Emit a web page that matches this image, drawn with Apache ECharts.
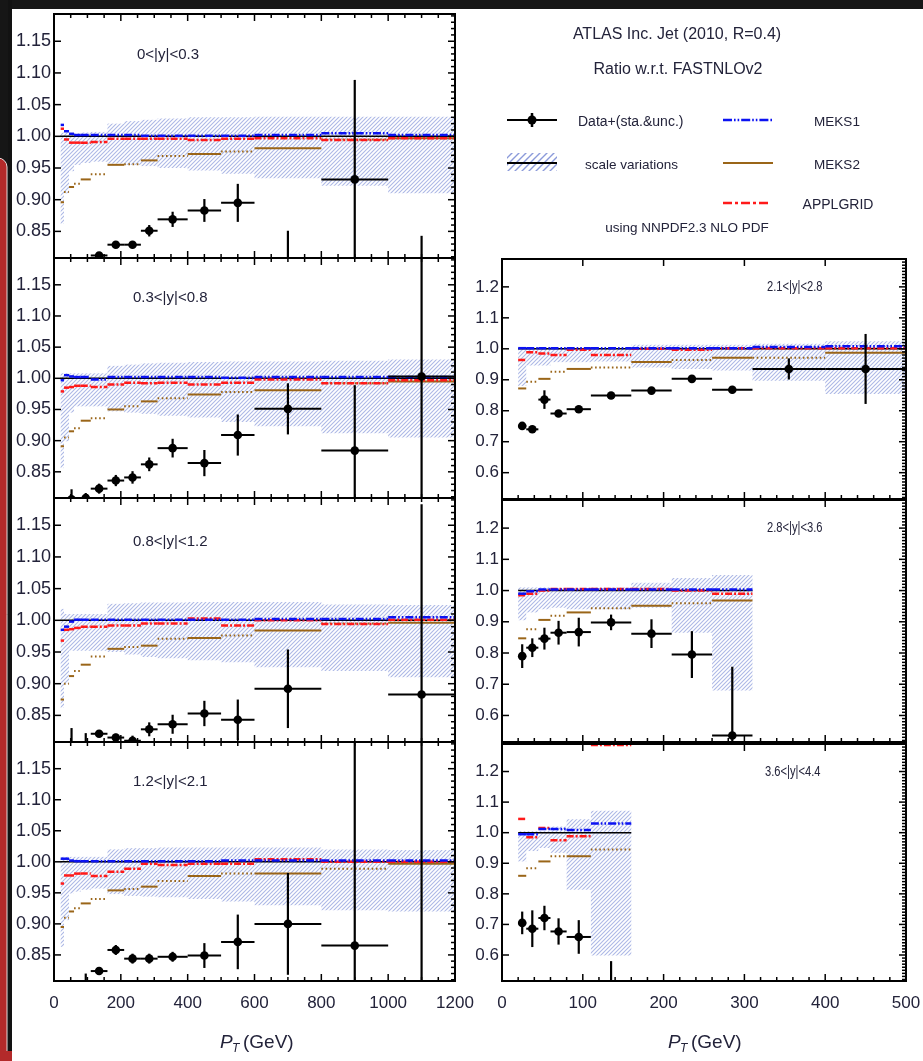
<!DOCTYPE html>
<html>
<head>
<meta charset="utf-8">
<script src="https://cdn.jsdelivr.net/npm/echarts@6/dist/echarts.min.js"></script>
<style>
  html, body { margin: 0; padding: 0; background: #161616; }
  #chart { width: 923px; height: 1061px; }
</style>
</head>
<body>
<div id="chart"></div>
<script>
// ---------------- pT bin edges (GeV) ----------------
const ptEdgesCentral = [20, 30, 45, 60, 80, 110, 160, 210, 260, 310, 400, 500, 600, 800, 1000, 1200];
const ptEdgesY21 = [20, 30, 45, 60, 80, 110, 160, 210, 260, 310, 400, 500];
const ptEdgesY28 = [20, 30, 45, 60, 80, 110, 160, 210, 260, 310];
const ptEdgesY36 = [20, 30, 45, 60, 80, 110, 160];

// ---------------- axis tick labels ----------------
const centralXTicks = [0, 200, 400, 600, 800, 1000, 1200];
const forwardXTicks = [0, 100, 200, 300, 400, 500];
const centralYTicks = ['0.85', '0.90', '0.95', '1.00', '1.05', '1.10', '1.15'];
const forwardYTicks = ['0.6', '0.7', '0.8', '0.9', '1.0', '1.1', '1.2'];

// ---------------- 0<|y|<0.3 ----------------
const y00Data  = [0.70, 0.74, 0.77, 0.79, 0.79, 0.812, 0.829, 0.829, 0.851, 0.869, 0.883, 0.895, 0.76, 0.932, 0.70];
const y00Err   = [0.01, 0.01, 0.01, 0.01, 0.01, 0.005, 0.005, 0.005, 0.009, 0.012, 0.018, 0.03, 0.091, 0.157, 0.143];
const y00Lo    = [0.862, 0.91, 0.945, 0.955, 0.958, 0.96, 0.957, 0.955, 0.953, 0.95, 0.946, 0.941, 0.934, 0.922, 0.91];
const y00Hi    = [1.006, 1.006, 1.005, 1.005, 1.006, 1.007, 1.02, 1.024, 1.026, 1.028, 1.03, 1.03, 1.031, 1.031, 1.031];
const y00Meks1 = [1.018, 1.008, 1.004, 1.002, 1.002, 1.002, 1.002, 1.002, 1.001, 1.001, 1.001, 1.001, 1.002, 1.005, 1.002];
const y00Meks2 = [0.896, 0.912, 0.92, 0.925, 0.932, 0.94, 0.955, 0.956, 0.962, 0.969, 0.972, 0.976, 0.981, 0.995, 0.997];
const y00Appl  = [1.012, 0.995, 0.99, 0.99, 0.99, 0.991, 0.996, 0.996, 0.996, 0.996, 0.994, 0.996, 0.997, 0.994, 0.997];

// ---------------- 0.3<|y|<0.8 ----------------
const y03Data  = [0.75, 0.77, 0.806, 0.79, 0.808, 0.823, 0.836, 0.841, 0.862, 0.888, 0.864, 0.909, 0.951, 0.884, 1.003];
const y03Err   = [0.01, 0.01, 0.016, 0.01, 0.008, 0.008, 0.009, 0.01, 0.011, 0.015, 0.021, 0.033, 0.041, 0.105, 0.25];
const y03Lo    = [0.856, 0.899, 0.945, 0.955, 0.955, 0.955, 0.947, 0.945, 0.943, 0.94, 0.937, 0.93, 0.923, 0.912, 0.905];
const y03Hi    = [1.008, 1.008, 1.008, 1.008, 1.008, 1.008, 1.02, 1.022, 1.024, 1.025, 1.026, 1.027, 1.027, 1.028, 1.03];
const y03Meks1 = [0.997, 1.005, 1.003, 1.002, 1.002, 0.998, 1.002, 1.002, 1.002, 1.002, 1.002, 1.001, 1.002, 1.002, 1.002];
const y03Meks2 = [0.891, 0.905, 0.915, 0.92, 0.932, 0.936, 0.95, 0.955, 0.963, 0.968, 0.974, 0.978, 0.981, 0.992, 0.995];
const y03Appl  = [0.979, 0.985, 0.986, 0.988, 0.988, 0.986, 0.99, 0.993, 0.992, 0.993, 0.99, 0.993, 0.998, 0.992, 0.997];

// ---------------- 0.8<|y|<1.2 ----------------
const y08Data  = [0.70, 0.74, 0.79, 0.78, 0.80, 0.821, 0.815, 0.81, 0.828, 0.836, 0.853, 0.843, 0.892, 0.70, 0.883];
const y08Err   = [0.01, 0.01, 0.04, 0.01, 0.022, 0.005, 0.006, 0.008, 0.011, 0.015, 0.02, 0.032, 0.062, 0.08, 0.3];
const y08Lo    = [0.862, 0.9, 0.952, 0.952, 0.952, 0.952, 0.95, 0.946, 0.942, 0.94, 0.937, 0.934, 0.926, 0.92, 0.91];
const y08Hi    = [1.018, 1.01, 1.01, 1.01, 1.01, 1.01, 1.026, 1.027, 1.028, 1.028, 1.029, 1.029, 1.029, 1.025, 1.024];
const y08Meks1 = [0.985, 0.99, 0.998, 1.001, 1.001, 1.001, 1.001, 1.001, 1.001, 1.001, 1.001, 1.001, 1.002, 1.002, 1.005];
const y08Meks2 = [0.875, 0.9, 0.912, 0.92, 0.93, 0.943, 0.955, 0.958, 0.96, 0.971, 0.972, 0.976, 0.984, 0.995, 0.996];
const y08Appl  = [0.968, 0.985, 0.986, 0.988, 0.99, 0.99, 0.992, 0.992, 0.995, 0.995, 1.003, 0.992, 1.0, 0.994, 1.001];

// ---------------- 1.2<|y|<2.1 ----------------
const y12Data  = [0.70, 0.74, 0.77, 0.78, 0.79, 0.824, 0.858, 0.844, 0.844, 0.847, 0.849, 0.871, 0.90, 0.865, 0.80];
const y12Err   = [0.01, 0.01, 0.01, 0.01, 0.03, 0.005, 0.008, 0.008, 0.008, 0.008, 0.02, 0.044, 0.082, 0.4, 0.45];
const y12Lo    = [0.863, 0.906, 0.949, 0.952, 0.955, 0.957, 0.948, 0.945, 0.944, 0.943, 0.94, 0.936, 0.93, 0.922, 0.92];
const y12Hi    = [1.008, 1.008, 1.008, 1.008, 1.008, 1.008, 1.02, 1.022, 1.022, 1.023, 1.023, 1.023, 1.023, 1.02, 1.019];
const y12Meks1 = [1.005, 1.005, 1.002, 1.001, 1.001, 1.001, 1.001, 1.001, 1.001, 1.001, 1.001, 1.002, 1.002, 1.002, 1.002];
const y12Meks2 = [0.895, 0.91, 0.92, 0.925, 0.933, 0.94, 0.954, 0.956, 0.96, 0.969, 0.977, 0.981, 0.981, 0.989, 0.997];
const y12Appl  = [0.965, 0.978, 0.978, 0.981, 0.981, 0.977, 0.984, 0.989, 0.997, 0.995, 0.997, 0.997, 1.004, 1.0, 1.0];

// ---------------- 2.1<|y|<2.8 ----------------
const y21Data  = [0.751, 0.74, 0.836, 0.791, 0.805, 0.849, 0.865, 0.903, 0.868, 0.935, 0.935];
const y21Err   = [0.01, 0.008, 0.03, 0.01, 0.01, 0.01, 0.01, 0.01, 0.012, 0.034, 0.113];
const y21Lo    = [0.88, 0.946, 0.946, 0.957, 0.957, 0.959, 0.94, 0.935, 0.93, 0.897, 0.854];
const y21Hi    = [1.0, 1.0, 1.0, 1.0, 1.0, 1.0, 1.013, 1.013, 1.013, 1.016, 1.024];
const y21Meks1 = [1.002, 1.002, 1.002, 1.002, 1.002, 1.002, 1.002, 1.002, 1.002, 1.006, 1.008];
const y21Meks2 = [0.872, 0.894, 0.903, 0.926, 0.935, 0.94, 0.957, 0.964, 0.971, 0.971, 0.987];
const y21Appl  = [0.964, 0.989, 0.985, 0.98, 0.997, 0.98, 1.0, 0.997, 1.002, 1.002, 1.002];

// ---------------- 2.8<|y|<3.6 ----------------
const y28Data  = [0.79, 0.817, 0.846, 0.865, 0.867, 0.898, 0.862, 0.795, 0.536];
const y28Err   = [0.038, 0.03, 0.035, 0.038, 0.046, 0.025, 0.046, 0.075, 0.22];
const y28Lo    = [0.905, 0.93, 0.94, 0.945, 0.94, 0.94, 0.945, 0.865, 0.68];
const y28Hi    = [1.01, 1.01, 1.01, 1.005, 1.005, 1.01, 1.025, 1.04, 1.05];
const y28Meks1 = [0.99, 0.998, 1.003, 1.003, 1.003, 1.003, 1.003, 1.003, 1.003];
const y28Meks2 = [0.847, 0.876, 0.906, 0.919, 0.93, 0.943, 0.951, 0.959, 0.968];
const y28Appl  = [0.985, 0.99, 1.0, 1.005, 1.005, 1.005, 1.005, 1.0, 0.99];

// ---------------- 3.6<|y|<4.4 ----------------
const y36Data  = [0.705, 0.686, 0.721, 0.677, 0.659, 0.40];
const y36Err   = [0.037, 0.06, 0.04, 0.043, 0.055, 0.18];
const y36Lo    = [0.906, 0.94, 0.95, 0.934, 0.813, 0.598];
const y36Hi    = [1.005, 1.005, 1.005, 1.02, 1.044, 1.072];
const y36Meks1 = [0.995, 0.995, 1.012, 1.012, 1.009, 1.03];
const y36Meks2 = [0.859, 0.884, 0.906, 0.923, 0.923, 0.945];
const y36Appl  = [1.045, 0.985, 1.015, 0.975, 0.988, 1.287];

// ---------------- styling ----------------
const FONT = '"Liberation Sans", Arial, Helvetica, sans-serif';
const TXT = '#23233a';
const BLUE = '#0b12f2';
const RED = '#ff1a1a';
const BROWN = '#9a6518';

function makeHatch(step, color, lw) {
  const c = document.createElement('canvas');
  c.width = step; c.height = step;
  const g = c.getContext('2d');
  g.strokeStyle = color; g.lineWidth = lw;
  g.beginPath();
  g.moveTo(0, step); g.lineTo(step, 0);
  g.moveTo(-step, step); g.lineTo(step, -step);
  g.moveTo(0, 2 * step); g.lineTo(2 * step, 0);
  g.stroke();
  return c;
}
const bandFill = { image: makeHatch(4, 'rgba(118,136,212,0.6)', 1.1), repeat: 'repeat' };
const legendHatch = { image: makeHatch(7, 'rgba(100,120,205,0.75)', 1.4), repeat: 'repeat' };

// ---------------- panel layout ----------------
const central = { x: [0, 1200], y: [0.808, 1.193], xTicks: centralXTicks, yTicks: centralYTicks, xMinor: 50, yMinor: 0.01, topMinor: true, ySize: 18 };
const forward = { x: [0, 500], y: [0.515, 1.29], xTicks: forwardXTicks, yTicks: forwardYTicks, xMinor: 20, yMinor: 0.01, topMinor: false, ySize: 17 };

const panels = [
  { label: '0<|y|<0.3', edges: ptEdgesCentral, data: y00Data, err: y00Err, lo: y00Lo, hi: y00Hi, m1: y00Meks1, m2: y00Meks2, ap: y00Appl,
    axes: central, grid: { left: 54, top: 14, width: 401, height: 244 }, showX: false, lab: [137, 55], labSize: 15, labScale: 1 },
  { label: '0.3<|y|<0.8', edges: ptEdgesCentral, data: y03Data, err: y03Err, lo: y03Lo, hi: y03Hi, m1: y03Meks1, m2: y03Meks2, ap: y03Appl,
    axes: central, grid: { left: 54, top: 258, width: 401, height: 240 }, showX: false, lab: [133, 298], labSize: 15, labScale: 1 },
  { label: '0.8<|y|<1.2', edges: ptEdgesCentral, data: y08Data, err: y08Err, lo: y08Lo, hi: y08Hi, m1: y08Meks1, m2: y08Meks2, ap: y08Appl,
    axes: central, grid: { left: 54, top: 498, width: 401, height: 244 }, showX: false, lab: [133, 542], labSize: 15, labScale: 1 },
  { label: '1.2<|y|<2.1', edges: ptEdgesCentral, data: y12Data, err: y12Err, lo: y12Lo, hi: y12Hi, m1: y12Meks1, m2: y12Meks2, ap: y12Appl,
    axes: central, grid: { left: 54, top: 742, width: 401, height: 239 }, showX: true, lab: [133, 782], labSize: 15, labScale: 1 },
  { label: '2.1<|y|<2.8', edges: ptEdgesY21, data: y21Data, err: y21Err, lo: y21Lo, hi: y21Hi, m1: y21Meks1, m2: y21Meks2, ap: y21Appl,
    axes: forward, grid: { left: 502, top: 259, width: 404, height: 240 }, showX: false, lab: [767, 287], labSize: 15.5, labScale: 0.72 },
  { label: '2.8<|y|<3.6', edges: ptEdgesY28, data: y28Data, err: y28Err, lo: y28Lo, hi: y28Hi, m1: y28Meks1, m2: y28Meks2, ap: y28Appl,
    axes: forward, grid: { left: 502, top: 500, width: 404, height: 242 }, showX: false, lab: [767, 528], labSize: 15.5, labScale: 0.72 },
  { label: '3.6<|y|<4.4', edges: ptEdgesY36, data: y36Data, err: y36Err, lo: y36Lo, hi: y36Hi, m1: y36Meks1, m2: y36Meks2, ap: y36Appl,
    axes: forward, grid: { left: 502, top: 744, width: 404, height: 237 }, showX: true, lab: [765, 772], labSize: 15.5, labScale: 0.72 }
];

// ---------------- item builders ----------------
const binSegments = (edges, vals) => vals.map((v, i) => [edges[i], edges[i + 1], v]);
const binBands = (edges, lo, hi) => lo.map((v, i) => [edges[i], edges[i + 1], v, hi[i]]);
const binPoints = (edges, vals, errs) =>
  vals.map((v, i) => [(edges[i] + edges[i + 1]) / 2, v, edges[i], edges[i + 1], errs[i]]);

function textEl(x, y, s, size, align, valign, sx) {
  return {
    type: 'text', x: x, y: y, scaleX: sx || 1, silent: true,
    style: { text: s, fill: TXT, font: size + 'px ' + FONT, fontSize: size, fontFamily: FONT,
             align: align, textAlign: align, verticalAlign: valign, textVerticalAlign: valign }
  };
}

function segmentRenderer(color, width, dashFn) {
  return function (params, api) {
    const a = api.coord([api.value(0), api.value(2)]);
    const b = api.coord([api.value(1), api.value(2)]);
    return {
      type: 'line',
      shape: { x1: a[0], y1: a[1], x2: b[0], y2: b[1] },
      style: { stroke: color, lineWidth: width, lineDash: dashFn(params.dataIndex), fill: null }
    };
  };
}

function bandRenderer(params, api) {
  const a = api.coord([api.value(0), api.value(3)]);
  const b = api.coord([api.value(1), api.value(2)]);
  return {
    type: 'rect',
    shape: { x: a[0], y: a[1], width: b[0] - a[0], height: b[1] - a[1] },
    style: { fill: bandFill, stroke: null }
  };
}

function pointRenderer(params, api) {
  const x = api.value(0), y = api.value(1), e = api.value(4);
  const c = api.coord([x, y]);
  const l = api.coord([api.value(2), y]);
  const r = api.coord([api.value(3), y]);
  const t = api.coord([x, y + e]);
  const b = api.coord([x, y - e]);
  return {
    type: 'group',
    children: [
      { type: 'line', shape: { x1: l[0], y1: c[1], x2: r[0], y2: c[1] }, style: { stroke: '#000', lineWidth: 2 } },
      { type: 'line', shape: { x1: c[0], y1: t[1], x2: c[0], y2: b[1] }, style: { stroke: '#000', lineWidth: 2.2 } },
      { type: 'circle', shape: { cx: c[0], cy: c[1], r: 4.3 }, style: { fill: '#000' } }
    ]
  };
}

function stepValues(min, max, step) {
  const out = [];
  const k0 = Math.ceil(min / step - 1e-6), k1 = Math.floor(max / step + 1e-6);
  for (let k = k0; k <= k1; k++) out.push(+(k * step).toFixed(6));
  return out;
}

function frameRenderer(p) {
  const ax = p.axes;
  return function (params, api) {
    const tl = api.coord([ax.x[0], ax.y[1]]);
    const br = api.coord([ax.x[1], ax.y[0]]);
    const L = tl[0], T = tl[1], R = br[0], B = br[1];
    const kids = [];
    const tick = (x1, y1, x2, y2) => kids.push({ type: 'line', shape: { x1, y1, x2, y2 }, style: { stroke: '#000', lineWidth: 1.5 } });
    const majorX = ax.xTicks;
    const majorY = ax.yTicks.map(Number);
    // x ticks: bottom has major + minor, top has major (+ minor on central panels)
    stepValues(ax.x[0], ax.x[1], ax.xMinor).forEach(v => {
      const px = api.coord([v, ax.y[0]])[0];
      const isMajor = majorX.indexOf(v) >= 0;
      const len = isMajor ? 7 : 4;
      tick(px, B, px, B - len);
      if (isMajor || ax.topMinor) tick(px, T, px, T + len);
    });
    // y ticks: left has major, right has major + minor
    stepValues(ax.y[0], ax.y[1], ax.yMinor).forEach(v => {
      const py = api.coord([ax.x[0], v])[1];
      const isMajor = majorY.some(m => Math.abs(m - v) < 1e-6);
      if (isMajor) tick(L, py, L + 7, py);
      tick(R, py, R - (isMajor ? 7 : 4), py);
    });
    // border
    kids.push({ type: 'rect', shape: { x: L, y: T, width: R - L, height: B - T }, style: { fill: null, stroke: '#000', lineWidth: 2 } });
    // y labels
    ax.yTicks.forEach(s => {
      const py = api.coord([ax.x[0], Number(s)])[1];
      kids.push(textEl(L - 3, py, s, ax.ySize, 'right', 'middle'));
    });
    // x labels
    if (p.showX) {
      ax.xTicks.forEach(v => {
        const px = api.coord([v, ax.y[0]])[0];
        kids.push(textEl(px, B + 22, String(v), 17, 'center', 'middle'));
      });
    }
    // rapidity bin label
    kids.push(textEl(p.lab[0], p.lab[1], p.label, p.labSize, 'left', 'middle', p.labScale));
    return { type: 'group', children: kids };
  };
}

// ---------------- option ----------------
const grids = [], xAxes = [], yAxes = [], series = [];
panels.forEach((p, i) => {
  grids.push(Object.assign({ show: false }, p.grid));
  xAxes.push({ type: 'value', gridIndex: i, min: p.axes.x[0], max: p.axes.x[1], show: false });
  yAxes.push({ type: 'value', gridIndex: i, min: p.axes.y[0], max: p.axes.y[1], show: false });
  const e = p.edges;
  const base = { type: 'custom', xAxisIndex: i, yAxisIndex: i, clip: true, silent: true, animation: false };
  series.push(Object.assign({}, base, { name: 'scale variations', z: 2, renderItem: bandRenderer,
    encode: { x: [0, 1], y: [2, 3] }, data: binBands(e, p.lo, p.hi) }));
  series.push(Object.assign({}, base, { name: 'FASTNLOv2', z: 3, renderItem: segmentRenderer('#000', 1.5, () => null),
    encode: { x: [0, 1], y: 2 }, data: [[e[0], e[e.length - 1], 1.0]] }));
  series.push(Object.assign({}, base, { name: 'MEKS2', z: 4, renderItem: segmentRenderer(BROWN, 2, k => (k % 2 ? [1.6, 2.6] : null)),
    encode: { x: [0, 1], y: 2 }, data: binSegments(e, p.m2) }));
  series.push(Object.assign({}, base, { name: 'APPLGRID', z: 5, renderItem: segmentRenderer(RED, 2.5, () => [7, 2, 2, 2]),
    encode: { x: [0, 1], y: 2 }, data: binSegments(e, p.ap) }));
  series.push(Object.assign({}, base, { name: 'MEKS1', z: 6, renderItem: segmentRenderer(BLUE, 2.5, () => [8, 2, 1.6, 2, 1.6, 2]),
    encode: { x: [0, 1], y: 2 }, data: binSegments(e, p.m1) }));
  series.push(Object.assign({}, base, { name: 'Data', z: 7, renderItem: pointRenderer,
    encode: { x: 0, y: 1 }, data: binPoints(e, p.data, p.err) }));
  series.push(Object.assign({}, base, { name: 'frame', z: 10, clip: false, renderItem: frameRenderer(p),
    encode: { x: 0, y: 1 }, data: [[p.axes.x[0], p.axes.y[0]]] }));
});

function gText(x, y, s, size, align, italic) {
  return {
    type: 'text', x: x, y: y, z: 100, silent: true,
    style: { text: s, fill: TXT, font: (italic ? 'italic ' : '') + size + 'px ' + FONT,
             align: align, textAlign: align, verticalAlign: 'middle', textVerticalAlign: 'middle' }
  };
}
function gLine(x1, y1, x2, y2, color, w, dash) {
  return { type: 'line', z: 100, silent: true, shape: { x1, y1, x2, y2 }, style: { stroke: color, lineWidth: w, lineDash: dash || null } };
}

const graphicEls = [
  // page and figure backgrounds
  { type: 'rect', z: -20, silent: true, shape: { x: -12, y: 158, width: 19, height: 920, r: 9 }, style: { fill: '#b32a2a', stroke: '#e6dada', lineWidth: 1 } },
  { type: 'rect', z: -19, silent: true, shape: { x: 8, y: 0, width: 4, height: 1061 }, style: { fill: '#121212' } },
  { type: 'rect', z: -18, silent: true, shape: { x: 12, y: 9, width: 911, height: 1052 }, style: { fill: '#ffffff' } },
  { type: 'rect', z: -19, silent: true, shape: { x: 0, y: 1051, width: 12, height: 10 }, style: { fill: '#b32a2a' } },
  // header
  gText(677, 35, 'ATLAS Inc. Jet (2010, R=0.4)', 16, 'center'),
  gText(678, 70, 'Ratio w.r.t. FASTNLOv2', 16, 'center'),
  // legend: data
  gLine(507, 120, 557, 120, '#000', 2),
  gLine(532, 113, 532, 127, '#000', 2.5),
  { type: 'circle', z: 100, silent: true, shape: { cx: 532, cy: 120, r: 4.5 }, style: { fill: '#000' } },
  gText(578, 122, 'Data+(sta.&unc.)', 14, 'left'),
  // legend: scale variations
  { type: 'rect', z: 99, silent: true, shape: { x: 507, y: 153, width: 50, height: 18 }, style: { fill: legendHatch } },
  gLine(507, 163, 557, 163, '#000', 2),
  gText(585, 165, 'scale variations', 13.5, 'left'),
  // legend: theory curves
  gLine(723, 120, 773, 120, BLUE, 2.5, [9, 2, 1.6, 2, 1.6, 2]),
  gText(837, 122, 'MEKS1', 13.5, 'center'),
  gLine(723, 163, 773, 163, BROWN, 2),
  gText(837, 165, 'MEKS2', 13.5, 'center'),
  gLine(723, 203, 771, 203, RED, 2.5, [9, 3, 3, 3]),
  gText(838, 205, 'APPLGRID', 14, 'center'),
  gText(687, 228, 'using NNPDF2.3 NLO PDF', 13.5, 'center'),
  // axis titles
  gText(220, 1043, 'P', 19, 'left', true),
  gText(232, 1049, 'T', 12, 'left', true),
  gText(243, 1043, '(GeV)', 19, 'left'),
  gText(668, 1043, 'P', 19, 'left', true),
  gText(680, 1049, 'T', 12, 'left', true),
  gText(691, 1043, '(GeV)', 19, 'left')
];

const chart = echarts.init(document.getElementById('chart'), null, { renderer: 'canvas' });
chart.setOption({
  backgroundColor: '#161616',
  animation: false,
  grid: grids,
  xAxis: xAxes,
  yAxis: yAxes,
  series: series,
  graphic: { elements: graphicEls }
});
</script>
</body>
</html>
